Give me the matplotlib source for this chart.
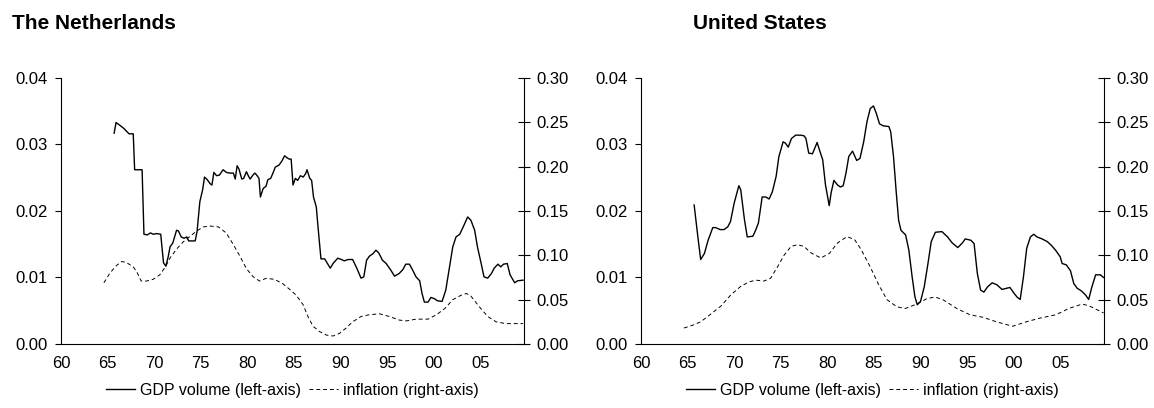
import numpy as np
import matplotlib
matplotlib.use('Agg')
import matplotlib.pyplot as plt

plt.rcParams['font.family'] = ['Liberation Sans', 'DejaVu Sans']

# values (year, value)
nl_gdp_x = [1965.7, 1965.9, 1966.3, 1966.75, 1967.1, 1967.3, 1967.75, 1967.9, 1968.7, 1968.9,
            1969.25, 1969.6, 1969.9, 1970.25, 1970.7, 1971.0, 1971.25, 1971.5, 1971.7, 1972.0,
            1972.4, 1972.6, 1972.9, 1973.2, 1973.5, 1973.7, 1974.0, 1974.4, 1974.6, 1974.9,
            1975.2, 1975.4, 1975.7, 1976.0, 1976.2, 1976.4, 1976.7, 1977.0, 1977.4, 1977.75,
            1978.1, 1978.5, 1978.7, 1978.9, 1979.1, 1979.4, 1979.6, 1979.9, 1980.1, 1980.3,
            1980.6, 1980.8, 1981.0, 1981.25, 1981.4, 1981.7, 1982.0, 1982.2, 1982.5, 1982.75,
            1983.0, 1983.4, 1983.7, 1984.0, 1984.25, 1984.5, 1984.7, 1984.9, 1985.15, 1985.4,
            1985.7, 1986.0, 1986.25, 1986.4, 1986.7, 1986.9, 1987.1, 1987.4, 1987.65, 1987.9,
            1988.3, 1988.6, 1988.9, 1989.2, 1989.7, 1990.1, 1990.4, 1990.8, 1991.3, 1991.75,
            1992.2, 1992.5, 1992.8, 1993.1, 1993.5, 1993.8, 1994.1, 1994.5, 1994.9, 1995.4,
            1995.8, 1996.3, 1996.7, 1997.0, 1997.4, 1997.75, 1998.1, 1998.5, 1998.75, 1999.0,
            1999.4, 1999.7, 2000.1, 2000.4, 2000.9, 2001.3, 2001.7, 2002.05, 2002.4, 2002.8,
            2003.2, 2003.65, 2004.0, 2004.4, 2004.7, 2005.1, 2005.4, 2005.8, 2006.2, 2006.5,
            2006.9, 2007.2, 2007.5, 2007.9, 2008.2, 2008.7, 2009.0, 2009.6]
nl_gdp = [0.0317, 0.0333, 0.0329, 0.0324, 0.0319, 0.0316, 0.0316, 0.0262, 0.0262, 0.0165,
          0.0164, 0.0167, 0.0165, 0.0166, 0.0165, 0.0122, 0.0117, 0.0131, 0.0146, 0.0152,
          0.0171, 0.0170, 0.0161, 0.0159, 0.0161, 0.0155, 0.0155, 0.0155, 0.0169, 0.0214,
          0.0232, 0.0251, 0.0247, 0.0241, 0.0239, 0.0258, 0.0253, 0.0254, 0.0262, 0.0258,
          0.0257, 0.0257, 0.0248, 0.0268, 0.0263, 0.0248, 0.0249, 0.0259, 0.0253, 0.0248,
          0.0254, 0.0257, 0.0254, 0.0249, 0.0221, 0.0234, 0.0237, 0.0247, 0.0249, 0.0257,
          0.0266, 0.0269, 0.0275, 0.0283, 0.0280, 0.0278, 0.0278, 0.0239, 0.0249, 0.0246,
          0.0253, 0.0251, 0.0256, 0.0262, 0.0249, 0.0246, 0.0221, 0.0206, 0.0166, 0.0128,
          0.0128, 0.0121, 0.0114, 0.0121, 0.0129, 0.0127, 0.0125, 0.0127, 0.0127, 0.0114,
          0.0099, 0.0101, 0.0126, 0.0132, 0.0136, 0.0141, 0.0137, 0.0126, 0.0121, 0.0111,
          0.0102, 0.0106, 0.0112, 0.0120, 0.0120, 0.0111, 0.0101, 0.0095, 0.0076, 0.0063,
          0.0063, 0.0070, 0.0068, 0.0065, 0.0064, 0.0081, 0.0116, 0.0146, 0.0161, 0.0165,
          0.0177, 0.0191, 0.0186, 0.0171, 0.0146, 0.0121, 0.0101, 0.0099, 0.0106, 0.0114,
          0.0120, 0.0116, 0.0120, 0.0121, 0.0104, 0.0092, 0.0095, 0.0096]

nl_inf_x = [1964.6, 1965.25, 1965.9, 1966.5, 1967.0, 1967.75, 1968.1, 1968.6, 1969.2, 1969.9,
            1970.6, 1971.2, 1971.7, 1972.4, 1973.1, 1973.8, 1974.5, 1975.25, 1976.0, 1976.9,
            1977.75, 1978.5, 1979.2, 1979.9, 1980.6, 1981.3, 1982.0, 1982.9, 1983.8, 1984.5,
            1985.25, 1986.0, 1986.5, 1987.05, 1987.75, 1988.5, 1989.2, 1989.9, 1990.6, 1991.3,
            1992.2, 1993.1, 1994.2, 1995.25, 1996.3, 1997.05, 1998.1, 1999.4, 2000.3, 2001.2,
            2002.05, 2002.95, 2003.5, 2004.0, 2004.9, 2005.8, 2006.7, 2007.75, 2009.6]
nl_inf = [0.069, 0.080, 0.088, 0.093, 0.092, 0.087, 0.082, 0.071, 0.071, 0.073,
          0.078, 0.087, 0.097, 0.107, 0.115, 0.121, 0.127, 0.132, 0.133, 0.132,
          0.125, 0.112, 0.099, 0.085, 0.076, 0.071, 0.074, 0.073, 0.068, 0.062,
          0.055, 0.044, 0.031, 0.020, 0.014, 0.010, 0.009, 0.012, 0.018, 0.025,
          0.031, 0.033, 0.034, 0.031, 0.027, 0.026, 0.028, 0.028, 0.033, 0.040,
          0.050, 0.055, 0.057, 0.054, 0.042, 0.031, 0.025, 0.023, 0.023]

us_gdp_x = [1965.7, 1966.1, 1966.4, 1966.8, 1967.2, 1967.7, 1968.0, 1968.5, 1968.9, 1969.3,
            1969.6, 1970.0, 1970.5, 1970.7, 1971.1, 1971.4, 1972.0, 1972.3, 1972.6, 1973.0,
            1973.4, 1973.75, 1974.1, 1974.5, 1974.8, 1975.25, 1975.5, 1975.8, 1976.15, 1976.6,
            1977.15, 1977.5, 1977.7, 1978.0, 1978.4, 1978.9, 1979.1, 1979.5, 1979.8, 1980.2,
            1980.4, 1980.7, 1981.1, 1981.4, 1981.7, 1982.0, 1982.3, 1982.7, 1983.15, 1983.5,
            1983.9, 1984.25, 1984.6, 1984.95, 1985.25, 1985.6, 1986.0, 1986.6, 1986.8, 1987.1,
            1987.4, 1987.65, 1987.9, 1988.4, 1988.75, 1989.1, 1989.4, 1989.65, 1990.0, 1990.4,
            1990.8, 1991.15, 1991.6, 1992.3, 1992.9, 1993.4, 1994.0, 1994.5, 1994.8, 1995.4,
            1995.75, 1996.1, 1996.45, 1996.8, 1997.2, 1997.7, 1998.2, 1998.75, 1999.3, 1999.6,
            2000.05, 2000.4, 2000.7, 2001.05, 2001.4, 2001.8, 2002.15, 2002.5, 2003.05, 2003.6,
            2004.0, 2004.5, 2005.0, 2005.2, 2005.65, 2006.1, 2006.45, 2006.8, 2007.25, 2007.7,
            2008.05, 2008.4, 2008.8, 2009.3, 2009.65]
us_gdp = [0.0209, 0.0161, 0.0127, 0.0136, 0.0156, 0.0175, 0.0175, 0.0172, 0.0172, 0.0176,
          0.0184, 0.0212, 0.0238, 0.0232, 0.0187, 0.0161, 0.0162, 0.0171, 0.0182, 0.0221,
          0.0221, 0.0218, 0.0229, 0.0252, 0.0282, 0.0304, 0.0302, 0.0296, 0.0309, 0.0314,
          0.0314, 0.0313, 0.0309, 0.0287, 0.0286, 0.0303, 0.0294, 0.0277, 0.0239, 0.0208,
          0.0227, 0.0246, 0.0239, 0.0236, 0.0238, 0.0257, 0.0282, 0.0290, 0.0276, 0.0279,
          0.0304, 0.0334, 0.0354, 0.0358, 0.0347, 0.0331, 0.0328, 0.0327, 0.0319, 0.0282,
          0.0227, 0.0186, 0.0171, 0.0164, 0.0141, 0.0101, 0.0071, 0.0059, 0.0064, 0.0086,
          0.0121, 0.0154, 0.0168, 0.0169, 0.0161, 0.0152, 0.0145, 0.0152, 0.0158, 0.0156,
          0.0151, 0.0106, 0.0081, 0.0078, 0.0086, 0.0092, 0.0089, 0.0082, 0.0084, 0.0085,
          0.0076, 0.0070, 0.0067, 0.0101, 0.0144, 0.0161, 0.0165, 0.0161, 0.0158, 0.0154,
          0.0149, 0.0141, 0.0131, 0.0121, 0.0119, 0.0110, 0.0091, 0.0084, 0.0080, 0.0074,
          0.0067, 0.0086, 0.0104, 0.0104, 0.0100]

us_inf_x = [1964.6, 1965.5, 1966.4, 1967.4, 1968.6, 1969.6, 1970.7, 1971.6, 1972.3, 1973.2,
            1973.9, 1974.65, 1975.35, 1976.1, 1976.8, 1977.5, 1978.2, 1979.3, 1980.2, 1981.1,
            1982.1, 1982.9, 1983.6, 1984.6, 1985.5, 1986.4, 1987.45, 1988.35, 1989.6, 1990.65,
            1991.55, 1992.4, 1993.9, 1995.3, 1996.75, 1998.15, 1999.9, 2001.35, 2002.75, 2004.55,
            2005.9, 2007.35, 2008.1, 2009.65]
us_inf = [0.018, 0.021, 0.025, 0.033, 0.043, 0.055, 0.065, 0.070, 0.072, 0.071,
          0.074, 0.087, 0.100, 0.110, 0.112, 0.110, 0.103, 0.097, 0.102, 0.114,
          0.121, 0.118, 0.107, 0.087, 0.067, 0.050, 0.042, 0.040, 0.045, 0.051,
          0.053, 0.050, 0.040, 0.033, 0.030, 0.025, 0.020, 0.025, 0.029, 0.033,
          0.040, 0.045, 0.043, 0.035]

titles = ['The Netherlands', 'United States']
year_ticks = [1960, 1965, 1970, 1975, 1980, 1985, 1990, 1995, 2000, 2005]
year_labels = ['60', '65', '70', '75', '80', '85', '90', '95', '00', '05']
left_ticks = [0.00, 0.01, 0.02, 0.03, 0.04]
right_ticks = [0.00, 0.05, 0.10, 0.15, 0.20, 0.25, 0.30]

fig = plt.figure(figsize=(11.54, 4.08), dpi=100)

panels = [(nl_gdp_x, nl_gdp, nl_inf_x, nl_inf), (us_gdp_x, us_gdp, us_inf_x, us_inf)]
lefts = [0.0529, 0.5555]
title_x = [0.0104, 0.6005]

for i, (gx, gy, ix, iy) in enumerate(panels):
    ax = fig.add_axes([lefts[i], 0.1569, 0.4012, 0.652])
    ax2 = ax.twinx()
    l1, = ax.plot(gx, gy, color='black', lw=1.0, label='GDP volume (left-axis)')
    l2, = ax2.plot(ix, iy, color='black', lw=0.7, dashes=[4, 3], label='inflation (right-axis)')

    ax.set_xlim(1960, 2009.7)
    ax.set_ylim(0, 0.04)
    ax2.set_ylim(0, 0.30)
    ax.set_xticks(year_ticks)
    ax.set_xticklabels(year_labels)
    ax.set_yticks(left_ticks)
    ax.set_yticklabels(['%.2f' % v for v in left_ticks])
    ax2.set_yticks(right_ticks)
    ax2.set_yticklabels(['%.2f' % v for v in right_ticks])

    for a in (ax, ax2):
        a.spines['top'].set_visible(False)
    ax.spines['right'].set_visible(False)
    ax2.spines['left'].set_visible(False)
    ax2.spines['bottom'].set_visible(False)
    for s in ('left', 'bottom'):
        ax.spines[s].set_linewidth(0.8)
    ax2.spines['right'].set_linewidth(0.8)

    ax.tick_params(axis='x', length=0, pad=9, labelsize=12)
    ax.tick_params(axis='y', direction='out', length=4.5, width=0.8, pad=5, labelsize=12)
    ax2.tick_params(axis='y', direction='inout', length=8, width=0.8, pad=5, labelsize=12)

    fig.text(title_x[i], 0.9436, titles[i], fontsize=15, fontweight='bold',
             ha='left', va='center')
    fig.legend([l1, l2], [l1.get_label(), l2.get_label()], ncol=2, frameon=False,
               loc='center', bbox_to_anchor=(lefts[i] + 0.4012 / 2, 0.044), fontsize=11.5,
               handlelength=1.8, handletextpad=0.35, columnspacing=0.5,
               borderpad=0, borderaxespad=0)

fig.savefig('out.png', dpi=100)
